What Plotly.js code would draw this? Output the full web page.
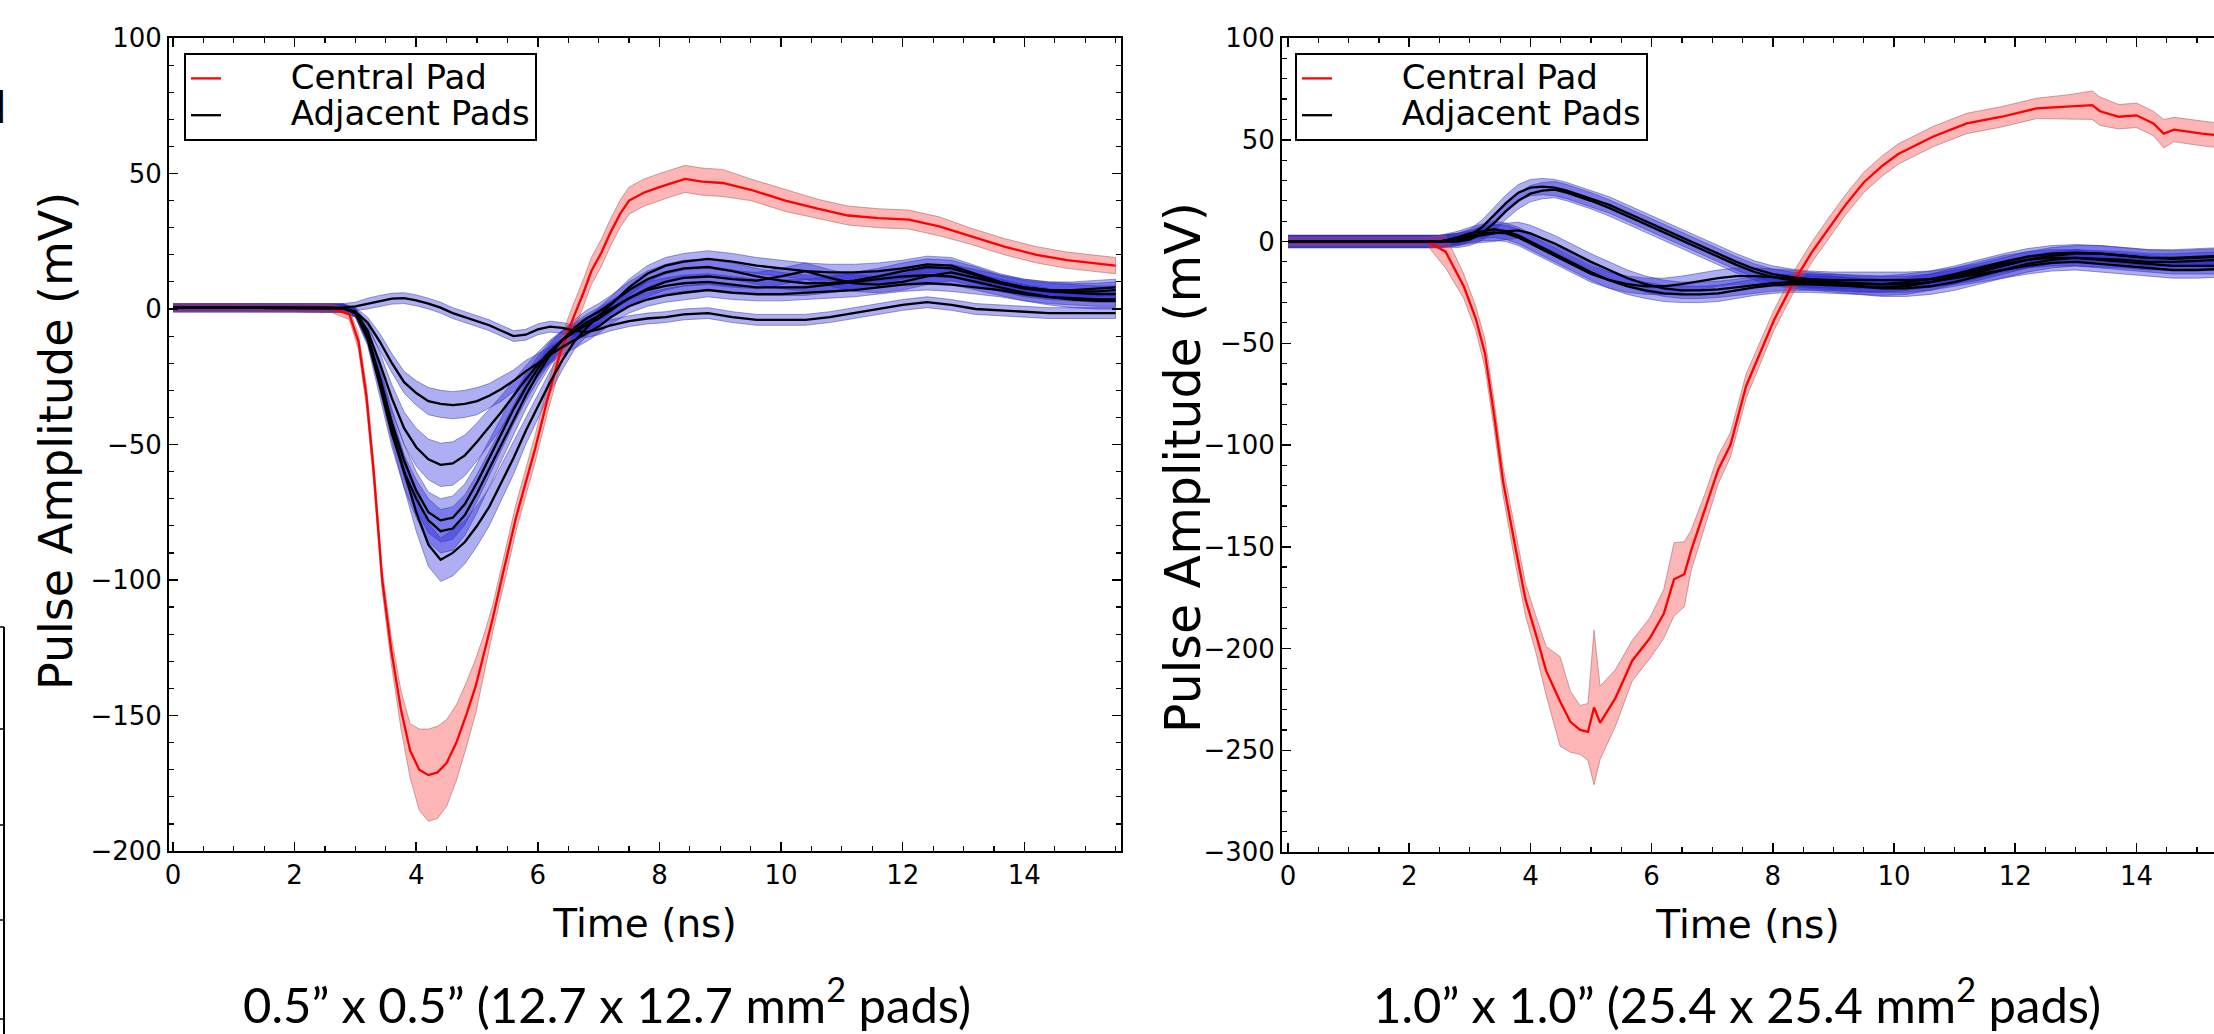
<!DOCTYPE html>
<html>
<head>
<meta charset="utf-8">
<script src="https://cdn.plot.ly/plotly-3.0.1.min.js"></script>
<style>html,body{margin:0;padding:0;background:#fff;}#chart{width:2214px;height:1034px;}</style>
</head>
<body>
<div id="chart"></div>
<script>
// ---------------- DATA: left panel (0.5" pads) ----------------
const tL_red = [0, 1, 2, 2.6, 2.9, 3.05, 3.18, 3.3, 3.44, 3.59, 3.75, 3.9, 4.05, 4.2, 4.35, 4.5, 4.66, 4.82, 4.98, 5.13, 5.26, 5.39, 5.52, 5.64, 5.8, 5.95, 6.15, 6.37, 6.57, 6.75, 6.88, 7.05, 7.19, 7.35, 7.5, 7.75, 8.0, 8.2, 8.42, 8.7, 9.04, 9.5, 10.07, 10.6, 11.1, 11.6, 12.1, 12.6, 13.1, 13.67, 14.2, 14.7, 15.1, 15.5];
const redL_mean = [0.5, 0.5, 0.5, 0.3, -2, -12, -32, -60, -100, -126, -148, -163, -170, -172, -171, -167.5, -160, -150, -139, -126, -114, -101, -89, -77, -64, -52, -34, -16, -4, 6, 14, 21, 28, 35, 40, 43, 45, 46.5, 48, 47, 46.5, 44, 40, 37, 34.5, 33.5, 33, 30.5, 27, 23, 20, 18, 17, 16];
const redL_sd = [1.5, 1.5, 1.5, 1.5, 2, 3, 4, 4, 4, 5, 7, 10, 15, 17, 17, 16, 14, 12, 10, 7, 5, 5, 5, 5, 5, 5, 5, 5, 5, 5, 5, 5, 5, 5, 5, 5, 5, 5, 5, 5, 5, 4, 4, 3.5, 3.5, 3.5, 3.5, 3.5, 3, 3, 3, 3, 3, 3];

const tL_adj = [0, 1, 2, 2.8, 3.0, 3.2, 3.4, 3.6, 3.8, 4.0, 4.2, 4.4, 4.6, 4.8, 5.0, 5.2, 5.4, 5.6, 5.8, 6.0, 6.2, 6.4, 6.6, 6.8, 7.0, 7.2, 7.5, 7.8, 8.1, 8.4, 8.8, 9.2, 9.6, 10.0, 10.4, 10.8, 11.2, 11.6, 12.0, 12.4, 12.8, 13.2, 13.6, 14.0, 14.4, 14.8, 15.2, 15.5];
const adjL_a = [0.5, 0.5, 0.5, 0.5, 1, 2, 3, 3.8, 4, 3.2, 2, 0.5, -1.5, -3, -4.5, -6, -8, -10, -9.5, -7.5, -6.5, -7, -8, -8.5, -7.5, -6, -4.5, -3.5, -3, -2, -1.5, -3, -4, -4, -4, -3, -1.5, 0, 1.5, 2.5, 1.5, 0, -0.5, -1, -1.5, -1.5, -1.5, -1.5];
const adjL_b = [0.5, 0.5, 0.5, 0.3, -1, -5, -12, -20, -27, -31, -34, -35, -35.5, -35, -34, -32, -29.5, -26.5, -23, -20, -17, -14, -11.5, -9, -6.5, -3, 1, 3.5, 5, 6, 7, 6, 5.5, 5.5, 6, 6.5, 7, 8, 9, 9.5, 9, 8, 7, 5.5, 4.5, 4, 3.5, 3.5];
const adjL_c = [0.5, 0.5, 0.5, 0.3, -1, -8, -20, -33, -44, -51, -55.5, -57.5, -57, -54, -49, -43.5, -38, -32, -26, -20.5, -15.5, -11.5, -8.5, -6, -3.5, -0.5, 4, 7.5, 10, 11.5, 12, 11, 10.5, 12, 14, 11.5, 9.5, 9, 10, 12, 13.5, 11.5, 9.5, 8, 7, 6.5, 6.5, 7];
const adjL_d = [0.5, 0.5, 0.5, 0.3, -1.5, -10, -25, -42, -56, -67, -75, -78, -77, -72, -64, -55, -46, -37, -29, -22, -16, -11.5, -8, -5, -2.5, 0, 4, 7, 8.5, 9.5, 10, 9, 8, 8, 8, 9, 10, 11, 12, 12.5, 12, 10, 8, 6, 4.5, 3.5, 3, 3];
const adjL_e = [0.5, 0.5, 0.5, 0.3, -1.5, -11, -28, -46, -60, -70, -78, -82, -81, -76, -68, -59, -50, -41, -32, -24, -17, -11.5, -7, -3.5, -1, 2, 7, 11, 13.5, 15, 15.5, 14, 12, 10.5, 9.5, 9.5, 10.5, 12, 14, 15.5, 15, 12.5, 9.5, 7.5, 6.5, 6, 5.5, 5.5];
const adjL_f = [0.5, 0.5, 0.5, 0.3, -1.5, -10, -26, -44, -60, -75, -87, -92.5, -90, -86, -80, -73, -64, -55, -45, -36, -27, -19, -12, -7, -2.5, 1.5, 8, 13, 16, 17.5, 18.5, 17.5, 16, 15, 14, 13.5, 13.5, 14, 15, 16.5, 16, 13, 10, 8, 7, 7, 7.5, 8];
const sdL_a = [1.5, 1.5, 1.5, 1.5, 1.5, 2, 2, 2, 2, 2, 2, 2, 2, 2, 2, 2, 2, 2, 2, 2, 2, 2, 2, 2, 2, 2, 2, 2, 2, 2, 2, 2, 2, 2, 2, 2, 2, 2, 2, 2, 2, 2, 2, 2, 2, 2, 2, 2];
const sdL_b = [1.5, 1.5, 1.5, 1.5, 1.5, 2, 3, 3.5, 4, 4.5, 5, 5, 5, 5, 5, 4.5, 4.5, 4, 4, 3.5, 3, 3, 3, 3, 2.5, 2.5, 2.5, 2.5, 2.5, 2.5, 2.5, 2.5, 2.5, 2.5, 2.5, 2.5, 2.5, 2.5, 2.5, 2.5, 2.5, 2.5, 2.5, 2.5, 2.5, 2.5, 2.5, 2.5];
const sdL_c = [1.5, 1.5, 1.5, 1.5, 1.5, 2.5, 4, 5, 6, 7, 7.5, 8, 8, 7.5, 7, 6.5, 6, 5.5, 5, 4.5, 4, 3.5, 3, 3, 3, 3, 3, 3, 3, 3, 3, 3, 3, 3, 3, 3, 3, 3, 3, 3, 3, 3, 3, 3, 3, 3, 3, 3];
const sdL_d = [1.5, 1.5, 1.5, 1.5, 1.5, 2.5, 4, 5, 6, 7, 7.5, 8, 8, 7.5, 7, 6.5, 6, 5.5, 5, 4.5, 4, 3.5, 3, 3, 3, 3, 3, 3, 3, 3, 3, 3, 3, 3, 3, 3, 3, 3, 3, 3, 3, 3, 3, 3, 3, 3, 3, 3];
const sdL_e = [1.5, 1.5, 1.5, 1.5, 1.5, 2.5, 4, 5, 6, 7, 8, 8, 8, 7.5, 7, 6.5, 6, 5.5, 5, 4.5, 4, 3.5, 3, 3, 3, 3, 3, 3, 3, 3, 3, 3, 3, 3, 3, 3, 3, 3, 3, 3, 3, 3, 3, 3, 3, 3, 3, 3];
const sdL_f = [1.5, 1.5, 1.5, 1.5, 1.5, 2.5, 4, 5, 6, 7, 8, 8, 8.5, 8, 7.5, 7, 6.5, 6, 5, 4.5, 4, 3.5, 3, 3, 3, 3, 3, 3, 3, 3, 3, 3, 3, 3, 3, 3, 3, 3, 3, 3, 3, 3, 3, 3, 3, 3, 3, 3];

// ---------------- DATA: right panel (1.0" pads) ----------------
const tR_red = [0, 1, 2, 2.3, 2.6, 2.9, 3.1, 3.25, 3.4, 3.55, 3.75, 3.92, 4.09, 4.26, 4.49, 4.66, 4.82, 4.95, 5.05, 5.15, 5.4, 5.68, 5.97, 6.2, 6.37, 6.54, 6.65, 6.88, 7.1, 7.3, 7.56, 8.02, 8.36, 8.65, 8.93, 9.2, 9.5, 9.8, 10.07, 10.64, 11.2, 11.78, 12.35, 12.9, 13.27, 13.4, 13.71, 14.0, 14.28, 14.45, 14.62, 15.08, 15.4];
const redR_mean = [0, 0, 0, 0, -5, -22, -38, -55, -85, -118, -150, -176, -193, -211, -226, -236, -240, -241, -229, -236.5, -224.5, -206, -195, -183, -166, -163.5, -152, -132, -112, -100, -71, -38.6, -19, -5, 7, 18, 29, 37, 43, 51.5, 58, 61.3, 65.4, 66.2, 67, 64, 61.3, 62, 58, 53, 55, 53, 52];
const redR_sd = [2, 2, 2, 2, 8, 6, 6, 7, 7, 7, 8, 8, 9, 12, 22, 15, 12, 14, 38, 18, 14, 10, 10, 12, 18, 16, 10, 8, 7, 6, 6, 5, 5, 5, 5, 5, 5, 5, 5, 5, 5, 5, 5, 6, 7, 7, 6, 6, 6, 7, 6, 6, 6];

const tR_adj = [0, 1, 2, 2.5, 2.8, 3.0, 3.2, 3.4, 3.6, 3.8, 4.0, 4.2, 4.4, 4.6, 4.8, 5.0, 5.3, 5.6, 5.9, 6.2, 6.5, 6.8, 7.1, 7.4, 7.7, 8.0, 8.3, 8.6, 9.0, 9.4, 9.8, 10.2, 10.6, 11.0, 11.4, 11.8, 12.2, 12.6, 13.0, 13.4, 13.8, 14.2, 14.6, 15.0, 15.4];
const adjR_a = [0, 0, 0, 0, 1, 3, 7, 13, 19, 24, 26.5, 27, 26.5, 25, 23, 21, 18, 14, 10, 6, 2, -2, -6, -10, -13.5, -16, -17.5, -18.5, -19, -19, -19, -19, -18.5, -17, -15, -12, -9, -7, -6, -6, -7, -8, -8, -7.5, -7];
const adjR_b = [0, 0, 0, 0, 0, 1, 4, 9, 15, 20, 23.5, 25, 25.5, 24, 22, 20, 16.5, 12.5, 8.5, 4.5, 0.5, -3.5, -7.5, -11.5, -15, -17.5, -19, -20, -21, -22, -23, -23, -22, -20, -17, -14, -11, -9, -8, -8.5, -9, -10, -10, -9.5, -9];
const adjR_c = [0, 0, 0, 0, 2, 4, 5, 6, 5, 3, 0, -3, -6, -9, -12, -15, -19, -22, -24, -25.5, -26, -26, -25.5, -24, -22.5, -21.5, -21, -21, -21.5, -22, -22.5, -22, -20, -17, -14, -11, -9, -8, -8, -9, -10, -11, -12, -12, -12];
const adjR_d = [0, 0, 0, 0, 1, 2, 3, 4, 5, 5.5, 4, 1.5, -1, -4, -7, -10, -14, -18, -21, -23, -24, -24, -23.5, -22.5, -21.5, -20.5, -20, -20, -20, -20.5, -21, -21, -20, -18, -16, -14, -12, -10.5, -10, -11, -12, -13, -14, -14, -13.5];
const adjR_e = [0, 0, 0, 0, 1, 2.5, 4, 4.5, 4, 2, -1, -4, -7, -10, -13, -16, -19, -21, -22, -22, -21, -19.5, -18, -17, -17, -17.5, -18, -19, -20, -21, -21, -20, -18.5, -16, -13, -10, -7.5, -6, -5.5, -6, -7, -8, -8.5, -8, -7.5];
const sdR_adj = [3, 3, 3, 3, 3, 3, 3.5, 4, 4, 4, 4, 4, 4, 4, 4, 4, 4, 4, 4, 4, 4, 4, 4, 4, 4, 4, 4, 4, 4, 4, 4, 4, 4, 4, 4, 4, 4, 4, 4, 4, 4, 4, 4, 4, 4];

// ---------------- labels ----------------
const legendLabels = ['Central Pad', 'Adjacent Pads'];
const xTitle = 'Time (ns)';
const yTitle = 'Pulse Amplitude (mV)';
const captionLeft = '0.5\u201d x 0.5\u201d (12.7 x 12.7 mm<sup>2</sup> pads)';
const captionRight = '1.0\u201d x 1.0\u201d (25.4 x 25.4 mm<sup>2</sup> pads)';

// ---------------- build ----------------
const W = 2214, H = 1034;
const px = x => x / W;
const py = y => 1 - y / H;
const PAD = '\u00a0\u00a0\u00a0\u00a0\u00a0\u00a0';
const legName = s => '<span style="font-size:34px">' + PAD + s + '</span>';

const RED_FILL = 'rgba(250,50,50,0.36)', RED_EDGE = 'rgba(150,90,90,0.5)';
const BLUE_FILL = 'rgba(30,30,220,0.36)', BLUE_EDGE = 'rgba(60,60,150,0.5)';

function band(t, m, s, xa, ya, fill, edge) {
  const up = m.map((v, i) => v + s[i]);
  const lo = m.map((v, i) => v - s[i]);
  return {type: 'scatter', mode: 'lines', x: t.concat(t.slice().reverse()), y: up.concat(lo.slice().reverse()),
    fill: 'toself', fillcolor: fill, line: {color: edge, width: 1}, hoverinfo: 'skip', showlegend: false, xaxis: xa, yaxis: ya};
}
function line(t, m, xa, ya, color, name, show, leg) {
  return {type: 'scatter', mode: 'lines', x: t, y: m, line: {color: color, width: 2.3}, name: legName(name),
    showlegend: show, legend: leg, xaxis: xa, yaxis: ya};
}

const traces = [];
const adjL = [adjL_a, adjL_b, adjL_c, adjL_d, adjL_e, adjL_f];
const sdL = [sdL_a, sdL_b, sdL_c, sdL_d, sdL_e, sdL_f];
adjL.forEach((m, i) => traces.push(band(tL_adj, m, sdL[i], 'x', 'y', BLUE_FILL, BLUE_EDGE)));
traces.push(band(tL_red, redL_mean, redL_sd, 'x', 'y', RED_FILL, RED_EDGE));
traces.push(line(tL_red, redL_mean, 'x', 'y', '#ff0000', legendLabels[0], true, 'legend'));
adjL.forEach((m, i) => traces.push(line(tL_adj, m, 'x', 'y', '#000000', legendLabels[1], i === 0, 'legend')));

const adjR = [adjR_a, adjR_b, adjR_c, adjR_d, adjR_e];
adjR.forEach(m => traces.push(band(tR_adj, m, sdR_adj, 'x2', 'y2', BLUE_FILL, BLUE_EDGE)));
traces.push(band(tR_red, redR_mean, redR_sd, 'x2', 'y2', RED_FILL, RED_EDGE));
traces.push(line(tR_red, redR_mean, 'x2', 'y2', '#ff0000', legendLabels[0], true, 'legend2'));
adjR.forEach((m, i) => traces.push(line(tR_adj, m, 'x2', 'y2', '#000000', legendLabels[1], i === 0, 'legend2')));

const tickFont = {family: 'DejaVu Sans', size: 26, color: '#000'};
const titleFont = {family: 'DejaVu Sans', size: 39, color: '#000'};
function xax(range, domain, anchor) {
  return {domain: domain, range: range, anchor: anchor, dtick: 2, tick0: 0, ticks: 'inside', ticklen: 9, tickwidth: 1.5,
    tickcolor: '#000', minor: {dtick: 0.5, ticks: 'inside', ticklen: 5, tickwidth: 1.2, tickcolor: '#000'},
    showline: true, linecolor: '#000', linewidth: 2, mirror: 'allticks', showgrid: false, zeroline: false,
    tickfont: tickFont, title: {text: xTitle, font: titleFont, standoff: 20}};
}
function yax(range, domain, anchor, mirror) {
  return {domain: domain, range: range, anchor: anchor, dtick: 50, ticks: 'inside', ticklen: 9, tickwidth: 1.5,
    tickcolor: '#000', minor: {dtick: 10, ticks: 'inside', ticklen: 5, tickwidth: 1.2, tickcolor: '#000'},
    showline: true, linecolor: '#000', linewidth: 2, mirror: mirror, showgrid: false, zeroline: false,
    tickfont: tickFont};
}

const legendBase = {xanchor: 'left', yanchor: 'top', bgcolor: '#fff', bordercolor: '#000', borderwidth: 2,
  font: {family: 'DejaVu Sans', size: 26, color: '#000'}, tracegroupgap: 0, valign: 'middle'};

const annFont = (fam, size) => ({family: fam, size: size, color: '#000'});
const layout = {
  width: W, height: H, margin: {l: 0, r: 0, t: 0, b: 0}, paper_bgcolor: '#fff', plot_bgcolor: '#fff',
  showlegend: true,
  xaxis: xax([-0.066, 15.59], [px(169), px(1121)], 'y'),
  yaxis: yax([-200, 100], [py(851), py(38)], 'x', 'allticks'),
  xaxis2: xax([-0.099, 15.28], [px(1282), 1], 'y2'),
  yaxis2: yax([-300, 100], [py(852), py(38)], 'x2', false),
  legend: Object.assign({x: px(184), y: py(53)}, legendBase),
  legend2: Object.assign({x: px(1295), y: py(53)}, legendBase),
  annotations: [
    {text: yTitle, xref: 'paper', yref: 'paper', x: px(56), y: py(441), textangle: -90, xanchor: 'center', yanchor: 'middle',
      showarrow: false, font: annFont('DejaVu Sans', 46)},
    {text: yTitle, xref: 'paper', yref: 'paper', x: px(1183), y: py(468), textangle: -90, xanchor: 'center', yanchor: 'middle',
      showarrow: false, font: annFont('DejaVu Sans', 49)},
    {text: captionLeft, xref: 'paper', yref: 'paper', x: px(607), y: py(1000), xanchor: 'center', yanchor: 'middle', showarrow: false,
      font: annFont('Lato', 49)},
    {text: captionRight, xref: 'paper', yref: 'paper', x: px(1737), y: py(1000), xanchor: 'center', yanchor: 'middle', showarrow: false,
      font: annFont('Lato', 49)},
    {text: 'd', xref: 'paper', yref: 'paper', x: px(9), y: py(109), xanchor: 'right', yanchor: 'middle', showarrow: false,
      font: annFont('DejaVu Sans', 42)}
  ],
  shapes: [
    {type: 'line', xref: 'paper', yref: 'paper', x0: px(4), x1: px(4), y0: py(627), y1: 0, line: {color: '#000', width: 2}},
    ...[627, 729, 825, 920, 1019].map(y => ({type: 'line', xref: 'paper', yref: 'paper', x0: 0, x1: px(4), y0: py(y), y1: py(y), line: {color: '#000', width: 1.5}}))
  ]
};

Plotly.newPlot('chart', traces, layout, {staticPlot: true, displayModeBar: false});
</script>
</body>
</html>
